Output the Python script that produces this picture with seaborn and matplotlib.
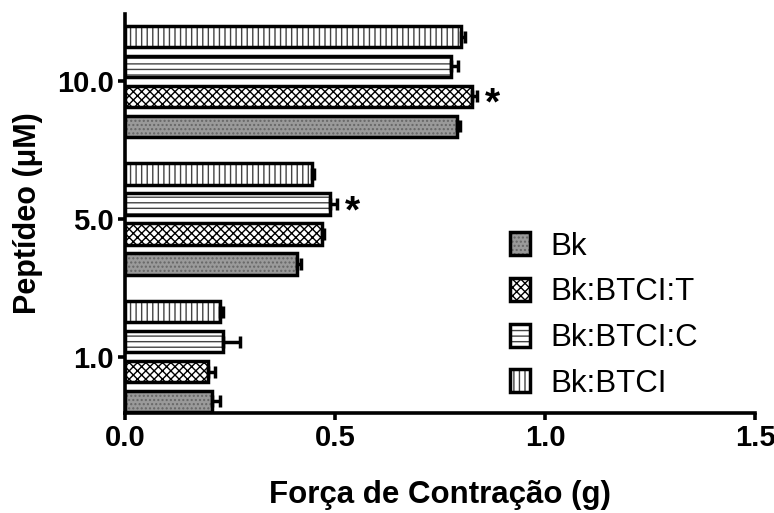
import matplotlib
matplotlib.use("Agg")
import matplotlib.pyplot as plt
import seaborn as sns
import pandas as pd
from matplotlib.patches import Patch
from matplotlib.colors import to_rgba

# ---------------- data ----------------
concentrations = ["10.0", "5.0", "1.0"]          # top to bottom
series_top_to_bottom = ["Bk:BTCI", "Bk:BTCI:C", "Bk:BTCI:T", "Bk"]
legend_order = ["Bk", "Bk:BTCI:T", "Bk:BTCI:C", "Bk:BTCI"]

bk_vals = [0.790, 0.410, 0.207]
bkt_vals = [0.826, 0.468, 0.198]
bkc_vals = [0.775, 0.488, 0.233]
btci_vals = [0.800, 0.445, 0.226]

bk_err = [0.008, 0.008, 0.020]
bkt_err = [0.012, 0.005, 0.017]
bkc_err = [0.018, 0.016, 0.040]
btci_err = [0.010, 0.005, 0.008]

significant = [("10.0", "Bk:BTCI:T"), ("5.0", "Bk:BTCI:C")]

x_ticks = [0.0, 0.5, 1.0, 1.5]
x_label = "Força de Contração (g)"
y_label = "Peptídeo (μM)"

values = {"Bk": bk_vals, "Bk:BTCI:T": bkt_vals, "Bk:BTCI:C": bkc_vals, "Bk:BTCI": btci_vals}
errors = {"Bk": bk_err, "Bk:BTCI:T": bkt_err, "Bk:BTCI:C": bkc_err, "Bk:BTCI": btci_err}

rows = []
for s in series_top_to_bottom:
    for c, v in zip(concentrations, values[s]):
        rows.append({"conc": c, "serie": s, "forca": v})
df = pd.DataFrame(rows)

# ---------------- style ----------------
sns.set_style("ticks")
plt.rcParams["font.family"] = ["Liberation Sans", "DejaVu Sans"]
plt.rcParams["hatch.linewidth"] = 1.0
for k in ["text.color", "axes.labelcolor", "xtick.color", "ytick.color", "axes.edgecolor"]:
    plt.rcParams[k] = "black"

styles = {
    "Bk":        dict(face="#9a9a9a", hatch="....", hcolor="#666666"),
    "Bk:BTCI:T": dict(face="white",   hatch="xxxx", hcolor="#000000"),
    "Bk:BTCI:C": dict(face="white",   hatch="---",  hcolor="#444444"),
    "Bk:BTCI":   dict(face="white",   hatch="|||",  hcolor="#444444"),
}
edge_lw = 2.5

fig = plt.figure(figsize=(7.74, 5.13), dpi=100)
ax = fig.add_axes([125 / 774, 1 - 413 / 513, 630 / 774, 399 / 513])

sns.barplot(data=df, y="conc", x="forca", hue="serie", order=concentrations,
            hue_order=series_top_to_bottom, orient="h", errorbar=None,
            width=0.87, gap=0.29, legend=False, ax=ax)

for s, cont in zip(series_top_to_bottom, ax.containers):
    st = styles[s]
    for i, patch in enumerate(cont.patches):
        patch.set_facecolor(st["face"])
        patch.set_edgecolor("black")
        patch.set_linewidth(edge_lw)
        patch._hatch_color = to_rgba(st["hcolor"])
        patch.set_hatch(st["hatch"])
        yc = patch.get_y() + patch.get_height() / 2
        v = values[s][i]
        e = errors[s][i]
        ax.errorbar(v, yc, xerr=[[0], [e]], fmt="none", ecolor="black",
                    elinewidth=edge_lw, capsize=4, capthick=edge_lw, zorder=3)
        if (concentrations[i], s) in significant:
            ax.annotate("*", xy=(v + e, yc), xytext=(6, -6), textcoords="offset points",
                        ha="left", va="center", fontsize=28, fontweight="bold")

ax.set_xlim(0, 1.5)
ax.set_ylim(2.41, -0.49)
ax.set_xticks(x_ticks)
ax.set_xticklabels([f"{t:.1f}" for t in x_ticks])
ax.set_xlabel(x_label, fontsize=22.5, fontweight="bold", labelpad=20)
ax.set_ylabel(y_label, fontsize=22, fontweight="bold", labelpad=10)
for lab in ax.get_xticklabels() + ax.get_yticklabels():
    lab.set_fontsize(21)
    lab.set_fontweight("bold")

sns.despine(ax=ax)
for sp in ["left", "bottom"]:
    ax.spines[sp].set_linewidth(2.6)
ax.tick_params(axis="both", width=2.6, length=5, pad=3)

handles = []
for s in legend_order:
    st = styles[s]
    p = Patch(facecolor=st["face"], edgecolor="black", hatch=st["hatch"], linewidth=edge_lw)
    p._hatch_color = to_rgba(st["hcolor"])
    handles.append(p)
leg = ax.legend(handles, legend_order, loc="center left", bbox_to_anchor=(0.611, 0.245),
                frameon=False, fontsize=22.5, handlelength=0.65, handleheight=0.75,
                handletextpad=0.65, labelspacing=0.5, borderpad=0, borderaxespad=0)
for s, lp in zip(legend_order, leg.get_patches()):
    lp._hatch_color = to_rgba(styles[s]["hcolor"])

fig.savefig("out.png", dpi=100)
